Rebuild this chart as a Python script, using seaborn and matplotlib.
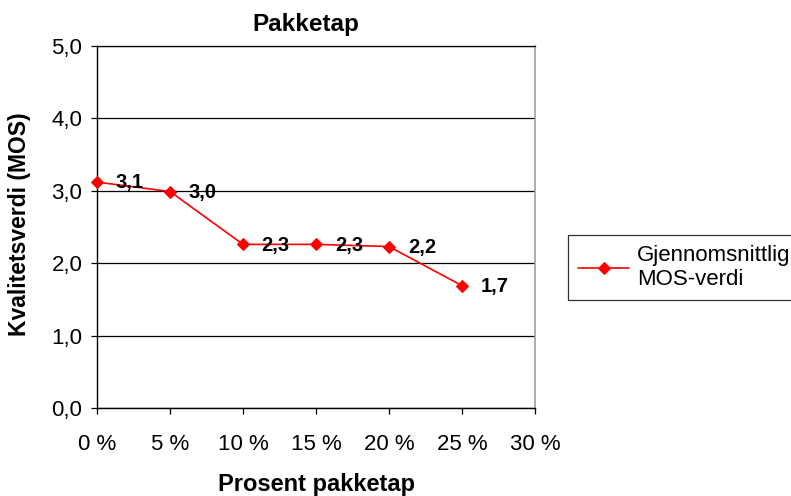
import matplotlib
matplotlib.use("Agg")
import matplotlib.pyplot as plt
from matplotlib.ticker import FuncFormatter, MultipleLocator
import seaborn as sns
import pandas as pd

# Packet loss (%) and mean opinion score
packet_loss = [0, 5, 10, 15, 20, 25]
mos = [3.12, 2.99, 2.26, 2.26, 2.23, 1.69]
series_name = "Gjennomsnittlig\nMOS-verdi"

df = pd.DataFrame({"loss": packet_loss, "mos": mos})

sns.set_style("white")
plt.rcParams["font.family"] = ["Liberation Sans", "DejaVu Sans"]
plt.rcParams["text.color"] = "black"
plt.rcParams["axes.labelcolor"] = "black"
plt.rcParams["xtick.color"] = "black"
plt.rcParams["ytick.color"] = "black"

W, H = 791, 496
fig = plt.figure(figsize=(W / 100, H / 100), dpi=100)
ax = fig.add_axes([97 / W, 1 - 408 / H, (535 - 97) / W, (408 - 46) / H])

sns.lineplot(data=df, x="loss", y="mos", ax=ax, color="#ff0000", marker="D",
             markersize=6.5, markeredgecolor="#ff0000", linewidth=1.2,
             label=series_name, zorder=5, clip_on=False)

ax.set_xlim(0, 30)
ax.set_ylim(0, 5)
ax.xaxis.set_major_locator(MultipleLocator(5))
ax.yaxis.set_major_locator(MultipleLocator(1))
ax.xaxis.set_major_formatter(FuncFormatter(lambda v, p: f"{v:.0f} %"))
ax.yaxis.set_major_formatter(FuncFormatter(lambda v, p: f"{v:.1f}".replace(".", ",")))

ax.grid(axis="y", color="black", linewidth=0.9)
ax.set_axisbelow(True)
for side in ("left", "bottom"):
    ax.spines[side].set_color("black")
    ax.spines[side].set_linewidth(1.0)
ax.spines["right"].set_color("#a0a0a0")
ax.spines["right"].set_linewidth(1.2)
ax.spines["top"].set_color("black")
ax.spines["top"].set_linewidth(0.9)

ax.tick_params(axis="both", which="major", direction="out", length=4.5, width=0.9,
               color="black", labelsize=16, labelcolor="black",
               left=True, bottom=True)
ax.tick_params(axis="x", pad=14)
ax.tick_params(axis="y", pad=6)

ax.set_xlabel("")
ax.set_ylabel("")

# Value labels next to each point
for x, y in zip(packet_loss, mos):
    ax.annotate(f"{y:.1f}".replace(".", ","), (x, y), xytext=(13.5, -0.5),
                textcoords="offset points", ha="left", va="center",
                fontsize=14.5, fontweight="bold", color="black", zorder=6)

fig.text(306 / W, 1 - 24 / H, "Pakketap", ha="center", va="center",
         fontsize=17.5, fontweight="bold")
fig.text(316 / W, 1 - 484 / H, "Prosent pakketap", ha="center", va="center",
         fontsize=17, fontweight="bold")
fig.text(20 / W, 1 - 224 / H, "Kvalitetsverdi (MOS)", ha="center", va="center",
         rotation=90, fontsize=16.5, fontweight="bold")

leg = ax.legend(loc="upper left", bbox_to_anchor=(568 / W, 1 - 235 / H),
                bbox_transform=fig.transFigure, frameon=True, fancybox=False,
                fontsize=16, borderaxespad=0, handlelength=2.3,
                handletextpad=0.35, borderpad=0.45, labelspacing=0.15)
leg.get_frame().set_edgecolor("black")
leg.get_frame().set_linewidth(0.9)

fig.savefig("out.png", dpi=100)
